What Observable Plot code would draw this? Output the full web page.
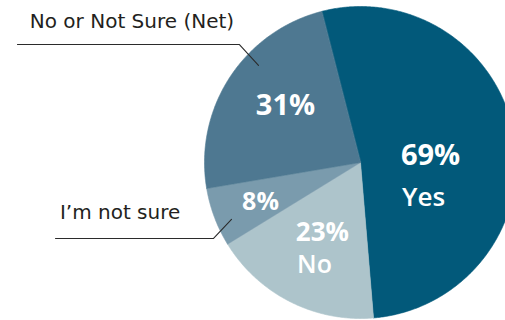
<!DOCTYPE html>
<html>
<head>
<meta charset="utf-8">
<script src="https://cdn.jsdelivr.net/npm/d3@7"></script>
<script src="https://cdn.jsdelivr.net/npm/@observablehq/plot@0.6"></script>
<style>
  html, body { margin: 0; padding: 0; background: #fff; overflow: hidden; }
  svg { display: block; }
</style>
</head>
<body>
<div id="chart"></div>
<script>
// ---- data ----
const categories = ["Yes", "No", "I\u2019m not sure", "No or Not Sure (Net)"];
const values = [69, 23, 8, 31];
const sliceNames = ["Yes", "No", "", ""];          // name shown inside slice
const outsideLabels = ["", "", "I\u2019m not sure", "No or Not Sure (Net)"];

// ---- style / layout ----
const colors = ["#02597a", "#adc4cb", "#7a9bad", "#4e7891"];
const startDeg = -14.4;
const numFont = "'Open Sans', Lato, sans-serif";
const labelFont = "'DejaVu Sans', 'Open Sans', sans-serif";

const rows = categories.map((c, i) => ({cat: c, value: values[i], name: sliceNames[i], outside: outsideLabels[i]}));
const arcs = d3.pie().value(d => d.value).sort(null)
  .startAngle(startDeg * Math.PI / 180)
  .endAngle((startDeg + 360) * Math.PI / 180)(rows);

// polygon points for each slice (unit circle, y up)
const pts = [];
for (const a of arcs) {
  pts.push({cat: a.data.cat, x: 0, y: 0});
  const n = Math.max(2, Math.ceil((a.endAngle - a.startAngle) / (Math.PI / 360)));
  for (let k = 0; k <= n; k++) {
    const t = a.startAngle + (a.endAngle - a.startAngle) * k / n;
    pts.push({cat: a.data.cat, x: Math.sin(t), y: Math.cos(t)});
  }
}

// label placement (unit coordinates relative to pie centre)
const valuePos = [[0.449, 0.045], [-0.244, -0.449], [-0.641, -0.25], [-0.481, 0.365]];
const valueSize = [29, 26, 25, 29];
const namePos = [[0.404, -0.224], [-0.295, -0.660], null, null];
const nameSize = [26, 25, 0, 0];
const outsidePos = [null, null, [-1.541, -0.321], [-1.465, 0.904]];
const leaders = [null, null,
  [[-1.955, -0.487], [-0.942, -0.487], [-0.827, -0.365]],
  [[-2.199, 0.756], [-0.776, 0.756], [-0.654, 0.622]]];

const valueLabels = rows.map((r, i) => ({text: r.value + "%", x: valuePos[i][0], y: valuePos[i][1], size: valueSize[i]}));
const nameLabels = rows.map((r, i) => namePos[i] && {text: r.name, x: namePos[i][0], y: namePos[i][1], size: nameSize[i]}).filter(Boolean);
const outLabels = rows.map((r, i) => outsidePos[i] && {text: r.outside, x: outsidePos[i][0], y: outsidePos[i][1]}).filter(Boolean);
const leaderPts = [];
leaders.forEach((l, i) => l && l.forEach(p => leaderPts.push({id: i, x: p[0], y: p[1]})));

const R = 156, cx = 360, cy = 162;

const chart = Plot.plot({
  width: 505,
  height: 320,
  margin: 0,
  x: {domain: [-1, 1], range: [cx - R, cx + R], axis: null},
  y: {domain: [-1, 1], range: [cy + R, cy - R], axis: null},
  color: {domain: categories, range: colors},
  style: {background: "white", overflow: "hidden"},
  marks: [
    Plot.line(pts, {x: "x", y: "y", z: "cat", fill: "cat", stroke: "cat", strokeWidth: 0.6, curve: "linear-closed"}),
    Plot.line(leaderPts, {x: "x", y: "y", z: "id", stroke: "#2b2b2b", strokeWidth: 1.1}),
    Plot.text(valueLabels, {x: "x", y: "y", text: "text", fill: "white", fontSize: d => d.size, fontWeight: "bold", fontFamily: numFont}),
    Plot.text(nameLabels, {x: "x", y: "y", text: "text", fill: "white", fontSize: d => d.size, fontWeight: "600", fontFamily: numFont}),
    Plot.text(outLabels, {x: "x", y: "y", text: "text", fill: "#231f20", fontSize: 20, fontFamily: labelFont})
  ]
});
document.getElementById("chart").appendChild(chart);
</script>
</body>
</html>
